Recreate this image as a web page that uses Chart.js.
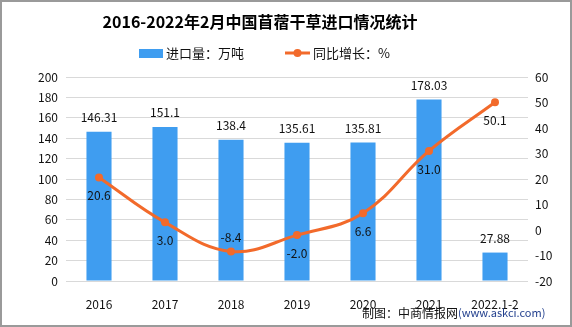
<!DOCTYPE html>
<html>
<head>
<meta charset="utf-8">
<script src="https://cdn.jsdelivr.net/npm/chart.js@4.4.1/dist/chart.umd.min.js"></script>
<style>
  html, body { margin: 0; padding: 0; background: #fff; }
  #wrap { width: 572px; height: 327px; }
</style>
</head>
<body>
<div id="wrap"><canvas id="c" width="572" height="327"></canvas></div>
<script>
  // ── data ───────────────────────────────────────────────────
  const years = ['2016', '2017', '2018', '2019', '2020', '2021', '2022.1-2'];
  const importVol = [146.31, 151.1, 138.4, 135.61, 135.81, 178.03, 27.88];   // 万吨
  const yoyGrowth = [20.6, 3.0, -8.4, -2.0, 6.6, 31.0, 50.1];                  // %
  const volLabels = ['146.31', '151.1', '138.4', '135.61', '135.81', '178.03', '27.88'];
  const yoyLabels = ['20.6', '3.0', '-8.4', '-2.0', '6.6', '31.0', '50.1'];
  const yoyAbove = [false, false, true, false, false, false, false];
  const leftTicks = { min: 0, max: 200, step: 20 };
  const rightTicks = { min: -20, max: 60, step: 10 };

  const TITLE = '2016-2022年2月中国苜蓿干草进口情况统计';
  const BLUE = '#3f9df0';
  const ORANGE = '#f26a2b';
  const FONT = '"Noto Sans CJK SC", "Noto Sans", sans-serif';

  // ── title / legend / labels / footer ──────────────────────
  const decor = {
    id: 'decor',
    beforeDraw(chart) {
      const c = chart.ctx;
      c.save();
      c.fillStyle = '#fff';
      c.fillRect(0, 0, chart.width, chart.height);
      c.restore();
    },
    afterDatasetsDraw(chart) {
      const c = chart.ctx;
      c.save();
      c.font = '12px ' + FONT;
      c.fillStyle = '#111';
      c.textAlign = 'center';
      c.textBaseline = 'middle';
      chart.getDatasetMeta(1).data.forEach((bar, i) => {
        c.fillText(volLabels[i], bar.x, bar.y - 14);
      });
      chart.getDatasetMeta(0).data.forEach((pt, i) => {
        c.fillText(yoyLabels[i], pt.x, yoyAbove[i] ? pt.y - 14 : pt.y + 18);
      });
      c.restore();
    },
    afterDraw(chart) {
      const c = chart.ctx;
      c.save();
      // title
      c.fillStyle = '#000';
      c.font = 'bold 16px ' + FONT;
      c.textAlign = 'center';
      c.textBaseline = 'middle';
      c.fillText(TITLE, 260, 22);

      // legend
      c.font = '13px ' + FONT;
      c.textAlign = 'left';
      c.fillStyle = BLUE;
      c.fillRect(139, 49, 24, 9);
      c.fillStyle = '#111';
      c.fillText(chart.data.datasets[1].label, 166, 53);
      c.strokeStyle = ORANGE;
      c.lineWidth = 3;
      c.beginPath(); c.moveTo(285, 53); c.lineTo(310, 53); c.stroke();
      c.fillStyle = ORANGE;
      c.beginPath(); c.arc(297.5, 53, 4, 0, Math.PI * 2); c.fill();
      c.fillStyle = '#111';
      c.fillText(chart.data.datasets[0].label, 313, 53);

      // footer
      c.font = '12px ' + FONT;
      c.fillStyle = '#111';
      c.fillText('制图：中商情报网', 362, 313);
      const w = c.measureText('制图：中商情报网').width;
      c.font = '11px ' + FONT;
      c.fillStyle = '#23408e';
      c.fillText('(www.askci.com)', 362 + w, 313);

      // frame
      c.strokeStyle = '#9a9a9a';
      c.lineWidth = 2;
      c.strokeRect(1, 1, chart.width - 2, chart.height - 2);
      c.restore();
    }
  };

  new Chart(document.getElementById('c'), {
    data: {
      labels: years,
      datasets: [
        {
          type: 'line', label: '同比增长：%', data: yoyGrowth, yAxisID: 'y1', order: 0,
          borderColor: ORANGE, backgroundColor: ORANGE, borderWidth: 3,
          pointRadius: 4, pointHoverRadius: 4, pointBackgroundColor: ORANGE, pointBorderWidth: 0,
          tension: 0.4, cubicInterpolationMode: 'default'
        },
        {
          type: 'bar', label: '进口量：万吨', data: importVol, yAxisID: 'y', order: 1,
          backgroundColor: BLUE, categoryPercentage: 1, barPercentage: 0.38
        }
      ]
    },
    options: {
      responsive: false, animation: false,
      layout: { padding: { top: 77, left: 0, right: 0, bottom: 0 } },
      plugins: { legend: { display: false }, title: { display: false }, tooltip: { enabled: false } },
      scales: {
        x: {
          grid: { display: false }, border: { display: false },
          ticks: { color: '#111', font: { size: 12, family: FONT }, padding: 8, maxRotation: 0, autoSkip: false },
          afterFit(s) { s.height = 46; }
        },
        y: {
          position: 'left', min: leftTicks.min, max: leftTicks.max,
          ticks: { stepSize: leftTicks.step, color: '#111', font: { size: 12, family: FONT }, padding: 8 },
          grid: { color: '#d9d9d9', lineWidth: 1, drawTicks: false }, border: { display: false },
          afterFit(s) { s.width = 66; }
        },
        y1: {
          position: 'right', min: rightTicks.min, max: rightTicks.max,
          ticks: { stepSize: rightTicks.step, color: '#111', font: { size: 12, family: FONT }, padding: 7 },
          grid: { drawOnChartArea: false, drawTicks: false }, border: { display: false },
          afterFit(s) { s.width = 44; }
        }
      }
    },
    plugins: [decor]
  });
</script>
</body>
</html>
